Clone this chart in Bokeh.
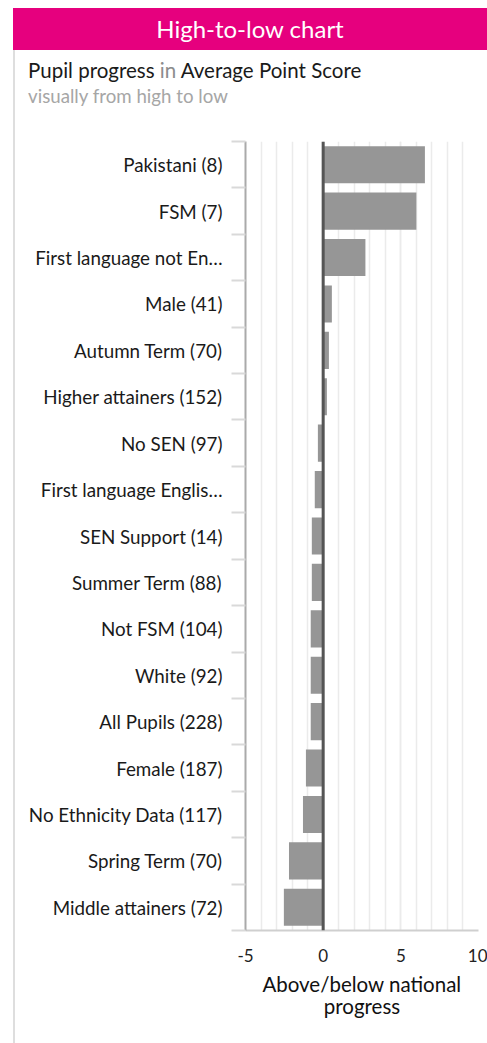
from bokeh.plotting import figure
from bokeh.models import Div, Span, FixedTicker, LinearAxis, Range1d, ColumnDataSource
from bokeh.layouts import column
from bokeh.embed import file_html
from bokeh.resources import INLINE

categories = [
    "Pakistani (8)", "FSM (7)", "First language not En…", "Male (41)",
    "Autumn Term (70)", "Higher attainers (152)", "No SEN (97)",
    "First language Englis…", "SEN Support (14)", "Summer Term (88)",
    "Not FSM (104)", "White (92)", "All Pupils (228)", "Female (187)",
    "No Ethnicity Data (117)", "Spring Term (70)", "Middle attainers (72)",
]
values = [6.55, 6.0, 2.72, 0.56, 0.37, 0.24, -0.34, -0.54, -0.73, -0.73,
          -0.8, -0.8, -0.8, -1.11, -1.3, -2.2, -2.53]
x_ticks = [-5, 0, 5, 10]
x_tick_labels = ["-5", "0", "5", "10"]
x_min, x_max = -5, 10

FONT = "Lato"
n = len(categories)
ys = [n - i - 0.5 for i in range(n)]
src = ColumnDataSource(dict(y=ys, v=values, cat=categories))

p = figure(width=472, height=913, x_range=Range1d(x_min, x_max), y_range=Range1d(0, n),
           output_backend="svg", toolbar_location=None, y_axis_type=None,
           min_border_left=230, min_border_right=9, min_border_top=11, min_border_bottom=113)
p.outline_line_color = None
p.background_fill_color = "white"
p.border_fill_color = "white"

# y axis with labels at centers and separator ticks at boundaries
yaxis = LinearAxis(ticker=FixedTicker(ticks=ys, minor_ticks=list(range(0, n + 1))),
                   major_label_overrides={y: c for y, c in zip(ys, categories)})
yaxis.major_tick_line_color = None
yaxis.major_tick_out = 0
yaxis.major_tick_in = 0
yaxis.minor_tick_out = 14
yaxis.minor_tick_in = 0
yaxis.minor_tick_line_color = "#d9d9d9"
yaxis.minor_tick_line_width = 2
yaxis.axis_line_color = "#aaaaaa"
yaxis.axis_line_width = 2
yaxis.major_label_standoff = 9
yaxis.major_label_text_font = FONT
yaxis.major_label_text_font_size = "18.8px"
yaxis.major_label_text_color = "#1a1a1a"
p.add_layout(yaxis, "left")

xt = FixedTicker(ticks=x_ticks, minor_ticks=list(range(x_min, x_max + 1)))
p.xaxis.ticker = xt
p.xgrid.ticker = xt
p.xgrid.grid_line_color = "#ebebeb"
p.xgrid.grid_line_width = 1.5
p.xgrid.minor_grid_line_color = "#ebebeb"
p.xgrid.minor_grid_line_width = 1.5
xa = p.xaxis[0]
xa.major_label_overrides = {t: s for t, s in zip(x_ticks, x_tick_labels)}
xa.axis_line_color = "#cfcfcf"
xa.axis_line_width = 2
xa.major_tick_line_color = None
xa.minor_tick_line_color = None
xa.major_tick_out = 0
xa.major_label_standoff = 14
xa.major_label_text_font = FONT
xa.major_label_text_font_size = "17px"
xa.major_label_text_color = "#222222"
xa.axis_label = "Above/below national\nprogress"
xa.axis_label_text_font = FONT
xa.axis_label_text_font_size = "20.5px"
xa.axis_label_text_font_style = "normal"
xa.axis_label_text_color = "#111111"
xa.axis_label_text_line_height = 0.95
xa.axis_label_standoff = 7

p.hbar(y="y", left=0, right="v", height=0.8, source=src,
       fill_color="#969696", line_color=None)
p.add_layout(Span(location=0, dimension="height", line_color="#555555", line_width=3))

header = Div(text="High-to-low chart", width=474, height=42, margin=(0, 0, 0, 5),
             styles={"background-color": "#e6007e", "color": "white", "font-family": FONT,
                     "font-size": "24px", "text-align": "center", "line-height": "42px"})
sub = Div(text='<div style="font-size:20.5px;color:#1a1a1a;line-height:26px">Pupil progress '
               '<span style="color:#8c8c8c">in</span> Average Point Score</div>'
               '<div style="font-size:18.7px;color:#a6a6a6;line-height:22px;margin-top:2px">'
               'visually from high to low</div>',
          width=462, height=70,
          styles={"font-family": FONT, "padding-left": "8px", "padding-top": "2px",
                  "box-sizing": "border-box"})
body = column(sub, p, margin=(0, 0, 0, 5), styles={"border-left": "2px solid #dedede"})
root = column(header, body, margin=(8, 0, 0, 8))

open("out.html", "w").write(file_html(root, INLINE))
